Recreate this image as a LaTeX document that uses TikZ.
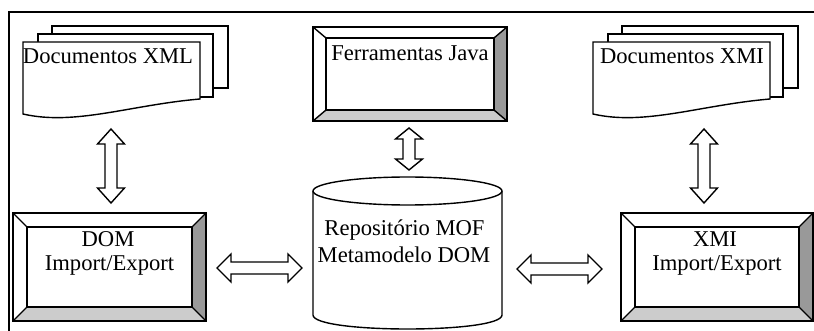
\documentclass[tikz,border=0pt]{standalone}
\usepackage{fontspec}
\setmainfont{Liberation Serif}
\usetikzlibrary{calc}
\definecolor{bevdark}{gray}{0.6}
\definecolor{bevlight}{gray}{0.8}
\tikzset{
  shp/.style={draw=black, line width=1.4pt, line join=miter},
  lbl/.style={font=\fontsize{22.6}{25}\selectfont, anchor=base, inner sep=0pt},
  blockarr/.style={draw=black, fill=white, line width=1.4pt, line join=miter},
}
% vertical double block arrow: #1 top tip, #2 bottom tip, #3 head length
\newcommand{\myvarrow}[3]{%
  \draw[blockarr] let \p1=(#1), \p2=(#2) in
  (\x1,\y1) -- (\x1+13.5pt,\y1-#3) -- (\x1+6pt,\y1-#3) -- (\x1+6pt,\y2+#3)
  -- (\x1+13.5pt,\y2+#3) -- (\x1,\y2) -- (\x1-13.5pt,\y2+#3) -- (\x1-6pt,\y2+#3)
  -- (\x1-6pt,\y1-#3) -- (\x1-13.5pt,\y1-#3) -- cycle;}
% horizontal double block arrow: #1 left tip, #2 right tip, #3 head length
\newcommand{\myharrow}[3]{%
  \draw[blockarr] let \p1=(#1), \p2=(#2) in
  (\x1,\y1) -- (\x1+#3,\y1+14pt) -- (\x1+#3,\y1+6pt) -- (\x2-#3,\y1+6pt)
  -- (\x2-#3,\y1+14pt) -- (\x2,\y1) -- (\x2-#3,\y1-14pt) -- (\x2-#3,\y1-6pt)
  -- (\x1+#3,\y1-6pt) -- (\x1+#3,\y1-14pt) -- cycle;}
% bevelled box: x1 y1 x2 y2 dx dy  (y downwards)
\newcommand{\bevelbox}[6]{%
  \fill[white] (#1,#2) rectangle (#3,#4);
  \fill[bevdark] (#3,#2) -- (#3,#4) -- ({#3-#5},{#4-#6}) -- ({#3-#5},{#2+#6}) -- cycle;
  \fill[bevlight] (#1,#4) -- (#3,#4) -- ({#3-#5},{#4-#6}) -- ({#1+#5},{#4-#6}) -- cycle;
  \draw[shp] (#1,#2) rectangle (#3,#4);
  \draw[shp] ({#1+#5},{#2+#6}) rectangle ({#3-#5},{#4-#6});
  \draw[shp] (#1,#2) -- ({#1+#5},{#2+#6});
  \draw[shp] (#3,#2) -- ({#3-#5},{#2+#6});
  \draw[shp] (#1,#4) -- ({#1+#5},{#4-#6});
  \draw[shp] (#3,#4) -- ({#3-#5},{#4-#6});}
\begin{document}
\begin{tikzpicture}[x=1pt,y=-1pt]
\useasboundingbox (0,0) rectangle (814,331);
\fill[white] (0,0) rectangle (814,331);
% outer frame (only top and left visible)
\draw[line width=1.3pt] (9,332) -- (9,12) -- (815,12);

% Documentos XML stack
\draw[shp, fill=white] (52,26) rectangle (228,88);
\draw[shp, fill=white] (38,34) rectangle (213,97);
\draw[shp, fill=white] (23,42) -- (200,42) -- (200,99) .. controls (130,105) and (75,126) .. (23,114) -- cycle;
\node[lbl] (xml) at (108,64) {Documentos XML};

% Documentos XMI stack
\draw[shp, fill=white] (622,26) rectangle (798,88);
\draw[shp, fill=white] (608,34) rectangle (783,97);
\draw[shp, fill=white] (593,42) -- (770,42) -- (770,99) .. controls (700,105) and (645,126) .. (593,114) -- cycle;
\node[lbl] (xmi) at (682,64) {Documentos XMI};

% Ferramentas Java
\bevelbox{313}{27}{507}{121}{13}{11}
\node[lbl] (java) at (410,61) {Ferramentas Java};

% DOM Import/Export
\bevelbox{13}{213}{206}{321}{14}{14}
\node[lbl] (dom1) at (108,247) {DOM};
\node[lbl] (dom2) at (109.5,270) {Import/Export};

% XMI Import/Export
\bevelbox{621}{213}{813}{321}{14}{14}
\node[lbl] (xmi1) at (715,247) {XMI};
\node[lbl] (xmi2) at (717,270) {Import/Export};

% Cylinder repository
\draw[shp, fill=white] (313,191) -- (313,315) .. controls (313,333.67) and (502,333.67) .. (502,315) -- (502,191);
\draw[shp, fill=white] (407.5,191) ellipse [x radius=94.5, y radius=14];
\node[lbl] (rep1) at (404.5,236) {Repositório MOF};
\node[lbl] (rep2) at (404,262) {Metamodelo DOM};

% arrow end points
\coordinate (a1t) at (111,129); \coordinate (a1b) at (111,203);
\coordinate (a2t) at (409,128); \coordinate (a2b) at (409,170);
\coordinate (a3t) at (704,129); \coordinate (a3b) at (704,203);
\coordinate (a4l) at (217,268); \coordinate (a4r) at (302,268);
\coordinate (a5l) at (517,269); \coordinate (a5r) at (602,269);
\myvarrow{a1t}{a1b}{15pt}
\myvarrow{a2t}{a2b}{11pt}
\myvarrow{a3t}{a3b}{15pt}
\myharrow{a4l}{a4r}{14pt}
\myharrow{a5l}{a5r}{14pt}
\end{tikzpicture}
\end{document}
